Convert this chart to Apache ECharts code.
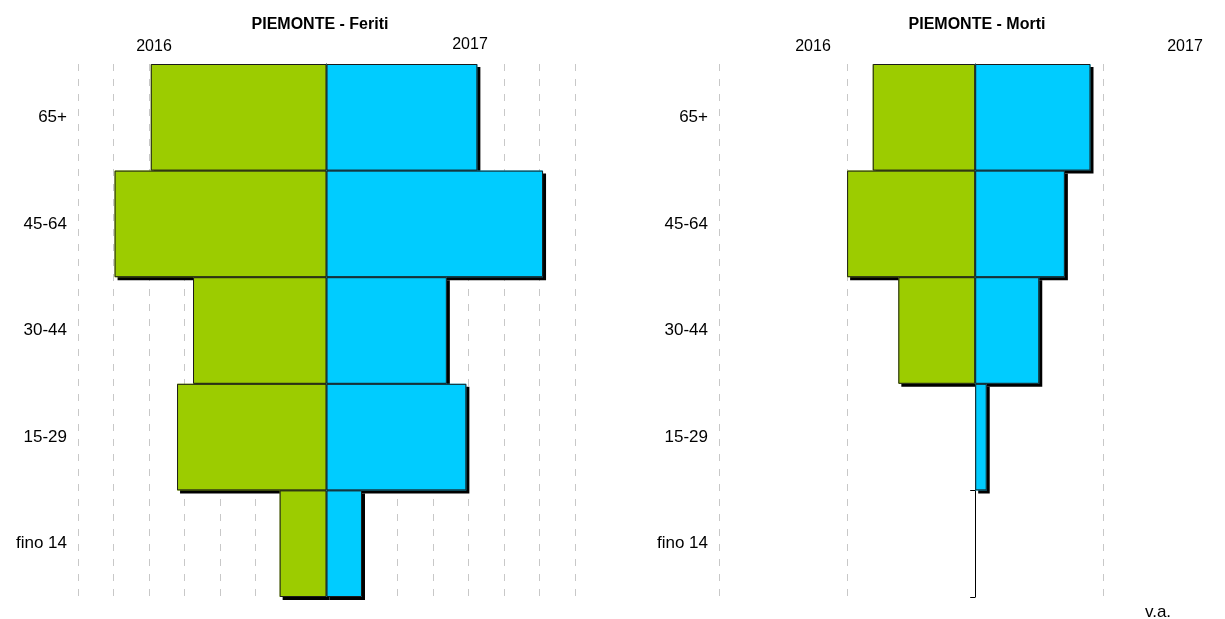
<!DOCTYPE html>
<html>
<head>
<meta charset="utf-8">
<script src="https://cdn.jsdelivr.net/npm/echarts@6/dist/echarts.min.js"></script>
<style>
  html, body { margin: 0; padding: 0; background: #fff; }
  #main { width: 1225px; height: 619px; }
</style>
</head>
<body>
<div id="main"></div>
<script>
var chart = echarts.init(document.getElementById('main'));

// classi di eta' (dall'alto in basso)
var categories = ['65+', '45-64', '30-44', '15-29', 'fino 14'];
// feriti (v.a.)
var feriti2016 = [4950, 5970, 3760, 4210, 1320];
var feriti2017 = [4250, 6100, 3390, 3940, 1000];
// morti (v.a.)
var morti2016 = [80, 100, 60, 0, 0];
var morti2017 = [90, 70, 50, 9, 0];

var green = '#9ccc00';
var blue = '#00ccff';

var font = 'Liberation Sans, Arial, sans-serif';

// 2016 a sinistra (negativi), 2017 a destra
function left(arr) {
    return arr.map(function (v) { return v === 0 ? '-' : -v; });
}
function right(arr) {
    return arr.map(function (v) { return v === 0 ? '-' : v; });
}

function xAxisFor(grid, min, max, step) {
    return {
        gridIndex: grid,
        type: 'value',
        min: min,
        max: max,
        interval: step,
        axisLabel: { show: false },
        axisLine: { show: false },
        axisTick: { show: false },
        splitLine: {
            show: true,
            showMaxLine: max % step === 0,
            lineStyle: { color: '#c8c8c8', width: 1, type: [7, 8] }
        }
    };
}

function labelAxis(grid) {
    return {
        gridIndex: grid,
        type: 'category',
        inverse: true,
        data: categories,
        position: 'left',
        axisLine: { show: false, onZero: false },
        axisTick: { show: false },
        axisLabel: {
            margin: 11,
            color: '#000',
            fontSize: 17,
            fontFamily: font
        }
    };
}

// asse centrale (linea nera con tacche)
function centerAxis(grid) {
    return {
        gridIndex: grid,
        type: 'category',
        inverse: true,
        data: categories,
        position: 'left',
        axisLine: { show: true, onZero: true, lineStyle: { color: '#000', width: 1 } },
        axisTick: { show: true, length: 5, lineStyle: { color: '#000', width: 1 } },
        axisLabel: { show: false }
    };
}

// ogni serie due volte: prima l'ombra, poi il rettangolo con bordo
function bars(name, data, color, xi, yi) {
    var base = {
        name: name,
        type: 'bar',
        xAxisIndex: xi,
        yAxisIndex: yi,
        barGap: '-100%',
        barCategoryGap: '0%',
        emphasis: { disabled: true },
        data: data
    };
    var shadow = Object.assign({}, base, {
        z: 1,
        itemStyle: {
            color: color,
            borderWidth: 0,
            shadowColor: '#000',
            shadowBlur: 0,
            shadowOffsetX: 3,
            shadowOffsetY: 3
        }
    });
    var body = Object.assign({}, base, {
        z: 2,
        itemStyle: { color: color, borderColor: '#1a1a1a', borderWidth: 1 }
    });
    return [shadow, body];
}

function txt(x, y, s, size, bold) {
    return {
        type: 'text',
        x: x,
        y: y,
        style: {
            text: s,
            fill: '#000',
            font: (bold ? 'bold ' : '') + size + 'px ' + font,
            textAlign: 'center',
            textVerticalAlign: 'middle'
        }
    };
}

var option = {
    animation: false,
    backgroundColor: '#fff',
    grid: [
        { left: 78, top: 64, width: 497, height: 533 },
        { left: 719, top: 64, right: 0, height: 533 }
    ],
    xAxis: [
        xAxisFor(0, -7000, 7000, 1000),
        xAxisFor(1, -200, 195, 100)
    ],
    yAxis: [
        labelAxis(0),
        centerAxis(0),
        labelAxis(1),
        centerAxis(1)
    ],
    series: [].concat(
        bars('2016', left(feriti2016), green, 0, 0),
        bars('2017', right(feriti2017), blue, 0, 0),
        bars('2016', left(morti2016), green, 1, 2),
        bars('2017', right(morti2017), blue, 1, 2)
    ),
    graphic: [
        txt(320, 25, 'PIEMONTE - Feriti', 16, true),
        txt(977, 25, 'PIEMONTE - Morti', 16, true),
        txt(154, 47, '2016', 16),
        txt(470, 45, '2017', 16),
        txt(813, 47, '2016', 16),
        txt(1185, 47, '2017', 16),
        txt(1158, 612, 'v.a.', 17)
    ]
};

chart.setOption(option);
</script>
</body>
</html>
